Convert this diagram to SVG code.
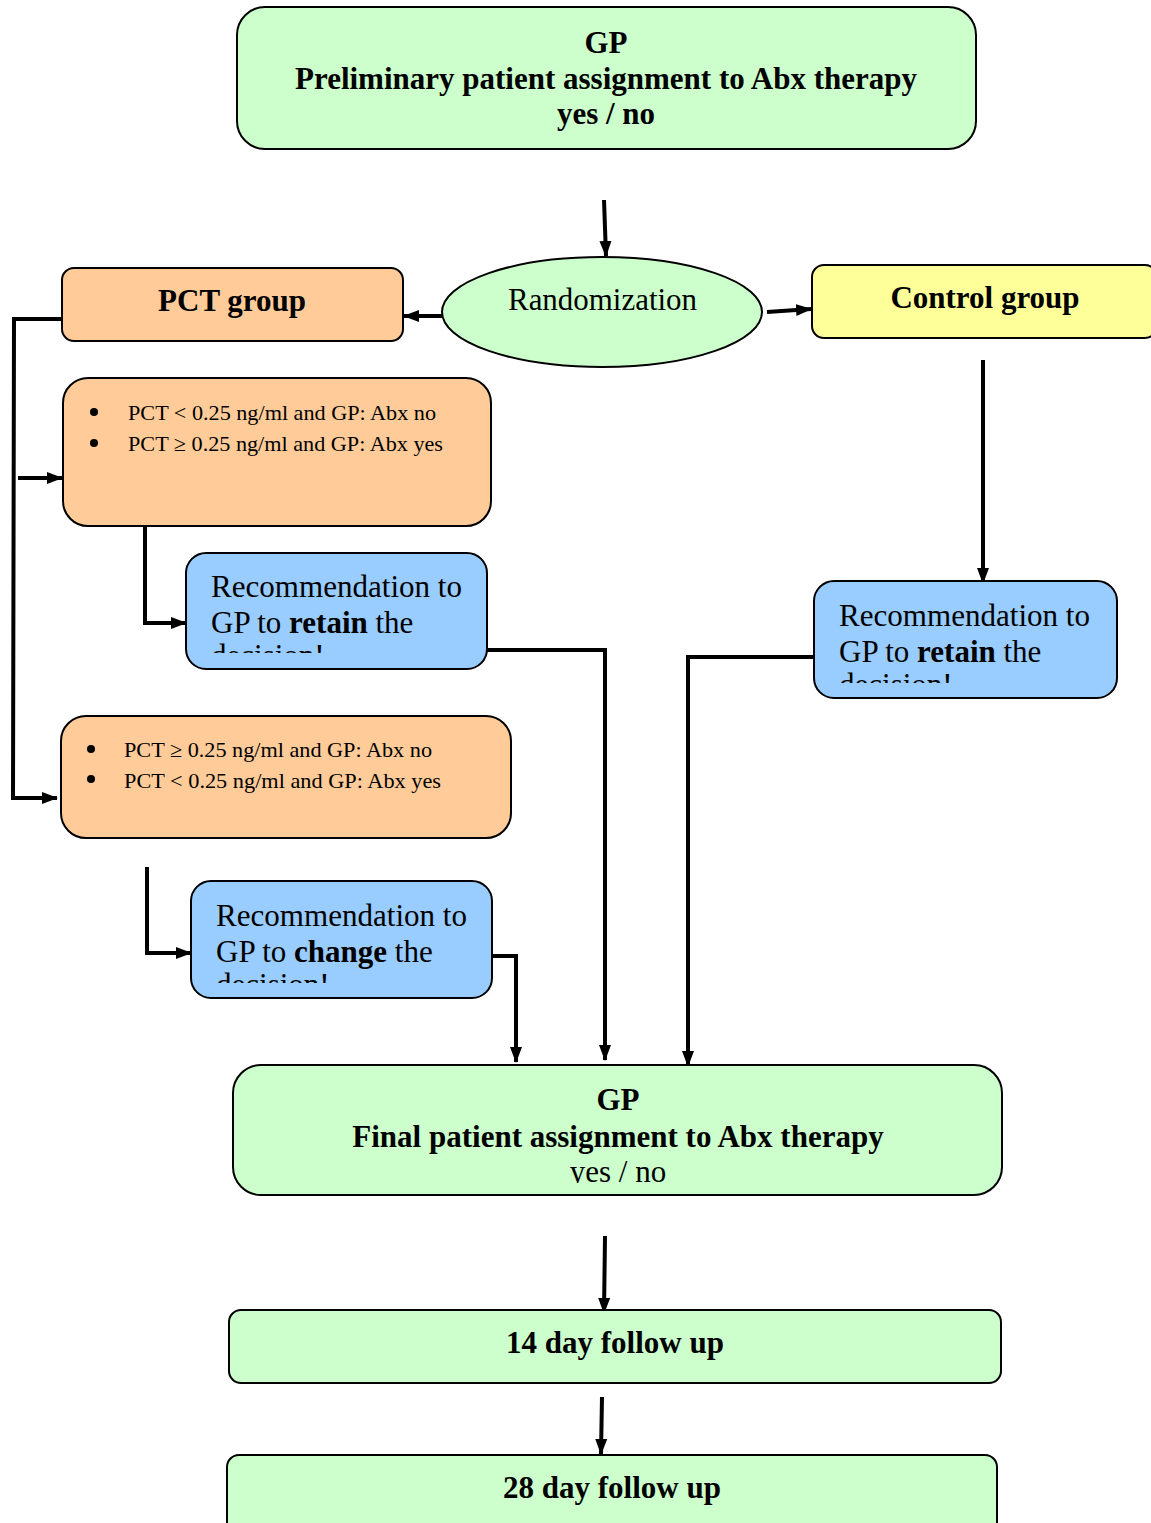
<svg xmlns="http://www.w3.org/2000/svg" width="1151" height="1523" viewBox="0 0 1151 1523">
<style>
.box{stroke:#000;stroke-width:2}
.green{fill:#ccffcc}
.orange{fill:#ffcc99}
.yellow{fill:#ffff99}
.blue{fill:#99ccff}
text{font-family:"Liberation Serif","Times New Roman",Times,serif;fill:#000}
.t{font-size:31px;font-weight:bold;text-anchor:middle}
.r{font-size:31px;font-weight:normal}
.s{font-size:21.5px;font-weight:normal}
.c{fill:none;stroke:#000;stroke-width:4}
</style>
<defs>
<marker id="ah" markerUnits="userSpaceOnUse" markerWidth="16" markerHeight="16" viewBox="0 0 16 16" refX="15" refY="8" orient="auto">
<path d="M0,2 L16,8 L0,14 Z" fill="#000"/>
</marker>
<clipPath id="cb1"><rect x="186" y="553" width="302" height="100"/></clipPath>
<clipPath id="cb2"><rect x="191" y="881" width="302" height="102"/></clipPath>
<clipPath id="cb3"><rect x="814" y="581" width="304" height="102"/></clipPath>
<clipPath id="cfin"><rect x="233" y="1065" width="770" height="118"/></clipPath>
</defs>

<g id="connectors">
<path class="c" d="M604,200 L606,256" marker-end="url(#ah)"/>
<path class="c" d="M444,316 L404,316" marker-end="url(#ah)"/>
<path class="c" d="M767,312 L811,309" marker-end="url(#ah)"/>
<path class="c" d="M62,319 L14,319 L13,798 L57,798" marker-end="url(#ah)"/>
<path class="c" d="M18,478 L62,478" marker-end="url(#ah)"/>
<path class="c" d="M145,526 L145,623 L186,623" marker-end="url(#ah)"/>
<path class="c" d="M487,650 L605,650 L605,1060" marker-end="url(#ah)"/>
<path class="c" d="M147,867 L147,953 L191,953" marker-end="url(#ah)"/>
<path class="c" d="M488,956 L516,956 L516,1062" marker-end="url(#ah)"/>
<path class="c" d="M983,360 L983,583" marker-end="url(#ah)"/>
<path class="c" d="M814,657 L688,657 L688,1066" marker-end="url(#ah)"/>
<path class="c" d="M605,1236 L604,1313" marker-end="url(#ah)"/>
<path class="c" d="M602,1397 L601,1454" marker-end="url(#ah)"/>
</g>

<g id="gp-preliminary">
<rect class="box green" x="237" y="7" width="739" height="142" rx="28"/>
<text class="t" x="606" y="53">GP</text>
<text class="t" x="606" y="89">Preliminary patient assignment to Abx therapy</text>
<text class="t" x="606" y="124">yes / no</text>
</g>

<g id="randomization">
<ellipse class="box green" cx="602" cy="312" rx="160" ry="55"/>
<text class="r" x="508" y="310" textLength="189" lengthAdjust="spacingAndGlyphs">Randomization</text>
</g>

<g id="pct-group">
<rect class="box orange" x="62" y="268" width="341" height="73" rx="12"/>
<text class="t" x="232" y="311">PCT group</text>
</g>

<g id="control-group">
<rect class="box yellow" x="812" y="265" width="345" height="73" rx="12"/>
<text class="t" x="985" y="308">Control group</text>
</g>

<g id="pct-concordant">
<rect class="box orange" x="63" y="378" width="428" height="148" rx="25"/>
<circle cx="94" cy="412" r="4"/>
<circle cx="94" cy="443" r="4"/>
<text class="s" x="128" y="420" textLength="308" lengthAdjust="spacingAndGlyphs">PCT &lt; 0.25 ng/ml and GP: Abx no</text>
<text class="s" x="128" y="451" textLength="315" lengthAdjust="spacingAndGlyphs">PCT ≥ 0.25 ng/ml and GP: Abx yes</text>
</g>

<g id="rec-retain-pct">
<rect class="box blue" x="186" y="553" width="301" height="116" rx="20"/>
<g clip-path="url(#cb1)">
<text class="r" x="211" y="597" textLength="251" lengthAdjust="spacingAndGlyphs">Recommendation to</text>
<text class="r" x="211" y="633">GP to <tspan font-weight="bold">retain</tspan> the</text>
<text class="r" x="211" y="666">decision!</text>
</g>
</g>

<g id="pct-discordant">
<rect class="box orange" x="61" y="716" width="450" height="122" rx="25"/>
<circle cx="91" cy="749" r="4"/>
<circle cx="91" cy="779" r="4"/>
<text class="s" x="124" y="757" textLength="308" lengthAdjust="spacingAndGlyphs">PCT ≥ 0.25 ng/ml and GP: Abx no</text>
<text class="s" x="124" y="788" textLength="317" lengthAdjust="spacingAndGlyphs">PCT &lt; 0.25 ng/ml and GP: Abx  yes</text>
</g>

<g id="rec-change">
<rect class="box blue" x="191" y="881" width="301" height="117" rx="20"/>
<g clip-path="url(#cb2)">
<text class="r" x="216" y="926" textLength="251" lengthAdjust="spacingAndGlyphs">Recommendation to</text>
<text class="r" x="216" y="962">GP to <tspan font-weight="bold">change</tspan> the</text>
<text class="r" x="216" y="995">decision!</text>
</g>
</g>

<g id="rec-retain-control">
<rect class="box blue" x="814" y="581" width="303" height="117" rx="20"/>
<g clip-path="url(#cb3)">
<text class="r" x="839" y="626" textLength="251" lengthAdjust="spacingAndGlyphs">Recommendation to</text>
<text class="r" x="839" y="662">GP to <tspan font-weight="bold">retain</tspan> the</text>
<text class="r" x="839" y="695">decision!</text>
</g>
</g>

<g id="gp-final">
<rect class="box green" x="233" y="1065" width="769" height="130" rx="28"/>
<text class="t" x="618" y="1110">GP</text>
<text class="t" x="618" y="1147">Final patient assignment to Abx therapy</text>
<g clip-path="url(#cfin)">
<text class="r" x="618" y="1182" text-anchor="middle">yes / no</text>
</g>
</g>

<g id="followup-14">
<rect class="box green" x="229" y="1310" width="772" height="73" rx="12"/>
<text class="t" x="615" y="1353" font-size="30">14 day follow up</text>
</g>

<g id="followup-28">
<rect class="box green" x="227" y="1455" width="770" height="80" rx="12"/>
<text class="t" x="612" y="1498" font-size="30">28 day follow up</text>
</g>
</svg>
